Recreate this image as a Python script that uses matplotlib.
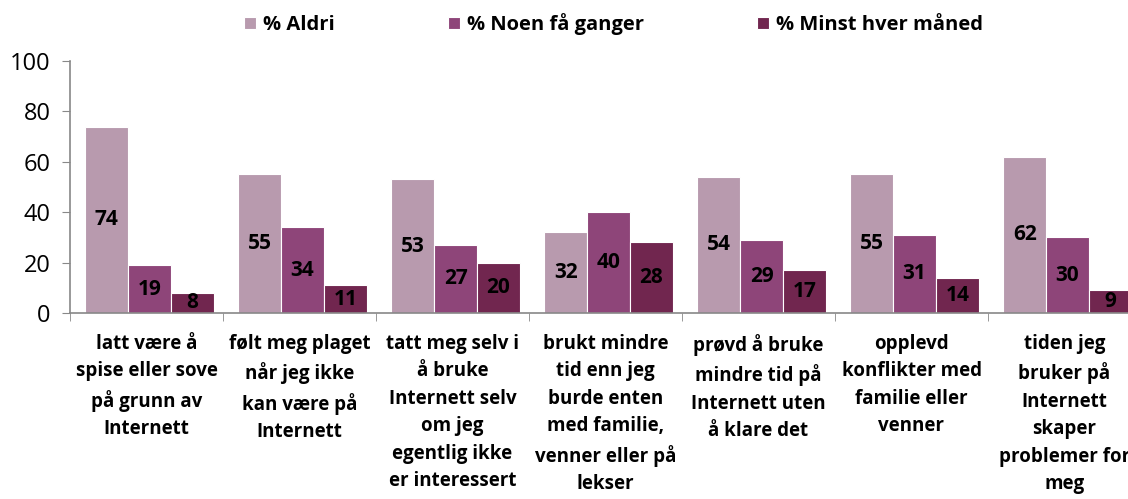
import numpy as np
import matplotlib
matplotlib.use('Agg')
import matplotlib.pyplot as plt
from matplotlib import font_manager

# ---- data ----
categories = [
    "latt være å\nspise eller sove\npå grunn av\nInternett",
    "følt meg plaget\nnår jeg ikke\nkan være på\nInternett",
    "tatt meg selv i\nå bruke\nInternett selv\nom jeg\negentlig ikke\ner interessert",
    "brukt mindre\ntid enn jeg\nburde enten\nmed familie,\nvenner eller på\nlekser",
    "prøvd å bruke\nmindre tid på\nInternett uten\nå klare det",
    "opplevd\nkonflikter med\nfamilie eller\nvenner",
    "tiden jeg\nbruker på\nInternett\nskaper\nproblemer for\nmeg",
]
aldri = [74, 55, 53, 32, 54, 55, 62]
noen = [19, 34, 27, 40, 29, 31, 30]
minst = [8, 11, 20, 28, 17, 14, 9]
series_names = ["% Aldri", "% Noen få ganger", "% Minst hver måned"]
yticks = [0, 20, 40, 60, 80, 100]

colors = ['#B89AAE', '#8E4579', '#71264F']

names = [f.name for f in font_manager.fontManager.ttflist]
FONT = 'Liberation Sans Narrow' if 'Liberation Sans Narrow' in names else 'Open Sans'
plt.rcParams['font.family'] = [FONT, 'DejaVu Sans']

fig = plt.figure(figsize=(11.28, 4.99), dpi=100)
# axes extends past the right edge, like the clipped original
ax = fig.add_axes([70 / 1128, 186 / 499, 1071 / 1128, 252 / 499])

x = np.arange(len(categories))
w = 0.28
for i, (vals, name, col) in enumerate(zip([aldri, noen, minst], series_names, colors)):
    pos = x + (i - 1) * w + 0.02
    ax.bar(pos, vals, width=w, color=col, edgecolor='white',
           linewidth=0.8, label=name)
    for xp, v in zip(pos, vals):
        ax.text(xp, v / 2, str(v), ha='center', va='center',
                fontsize=15, fontweight='bold', color='black')

ax.set_xlim(-0.5, len(categories) - 0.5)
ax.set_ylim(0, 100)
ax.set_yticks(yticks)
ax.tick_params(axis='y', labelsize=17, length=6, color='#888888', pad=8)

ax.set_xticks(x)
ax.set_xticklabels(categories, fontsize=13.5, fontweight='bold', linespacing=1.5)
ax.set_xticks(np.arange(len(categories) + 1) - 0.5, minor=True)
ax.tick_params(axis='x', which='major', length=0, pad=15)
ax.tick_params(axis='x', which='minor', length=6, color='#888888')

for s in ['top', 'right']:
    ax.spines[s].set_visible(False)
for s in ['left', 'bottom']:
    ax.spines[s].set_color('#888888')
    ax.spines[s].set_linewidth(1.2)

fig.legend(loc='upper left', bbox_to_anchor=(226 / 1128, 1.01), ncol=3,
           frameon=False, prop={'weight': 'bold', 'size': 14.5},
           handlelength=0.6, handleheight=0.6, handletextpad=0.35,
           columnspacing=5.6)

fig.savefig('out.png', dpi=100)
